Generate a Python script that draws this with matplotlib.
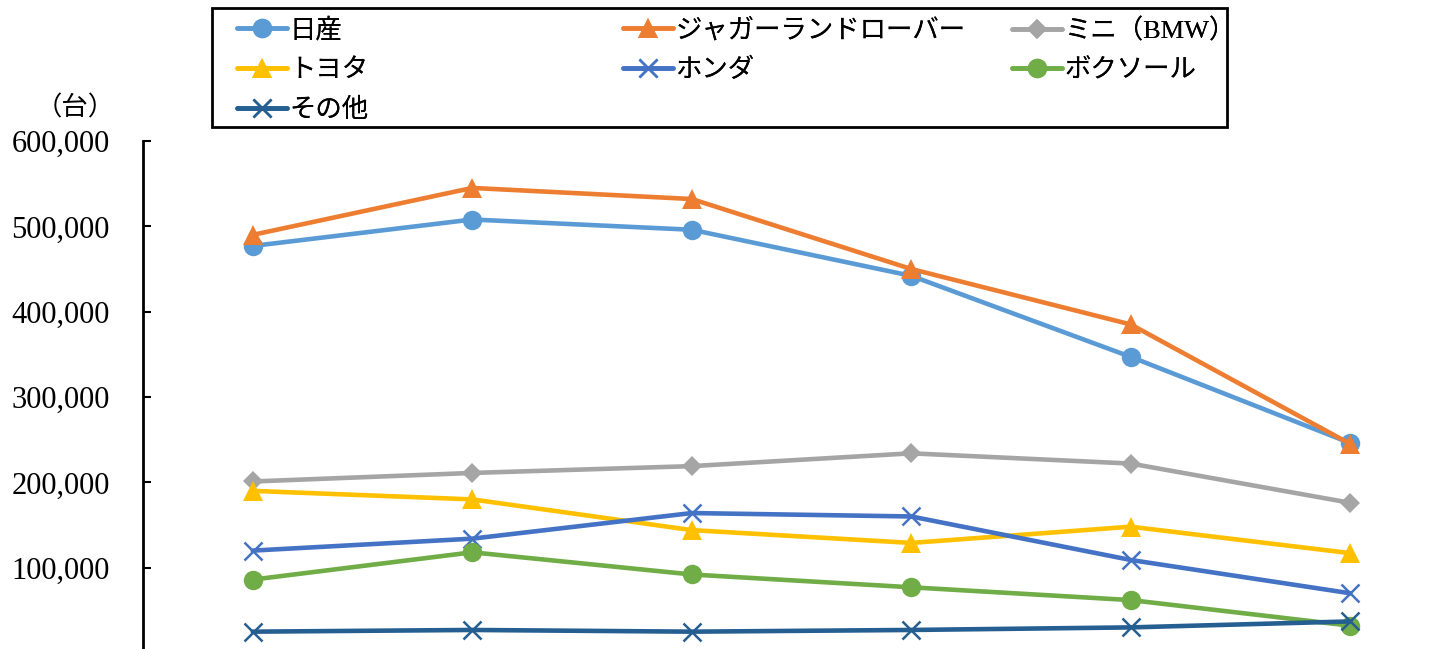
import matplotlib
matplotlib.use('Agg')
import matplotlib.pyplot as plt
from matplotlib.patches import Rectangle
from matplotlib.ticker import FuncFormatter

plt.rcParams['font.family'] = ['Liberation Serif', 'Noto Sans CJK JP']

# categories (x labels are cut off in the reference)
periods = ['1', '2', '3', '4', '5', '6']

nissan = [477000, 508000, 496000, 442000, 347000, 246000]
jaguar = [490000, 545000, 532000, 450000, 385000, 245000]
mini = [201000, 211000, 219000, 234000, 222000, 176000]
toyota = [190000, 180000, 144000, 129000, 148000, 117000]
honda = [120000, 134000, 164000, 160000, 109000, 70000]
vauxhall = [86000, 118000, 92000, 77000, 62000, 32000]
others = [25000, 27000, 25000, 27000, 30000, 37000]

series = [
    ('日産', nissan, '#5B9BD5', 'o'),
    ('ジャガーランドローバー', jaguar, '#ED7D31', '^'),
    ('ミニ（BMW）', mini, '#A5A5A5', 'D'),
    ('トヨタ', toyota, '#FFC000', '^'),
    ('ホンダ', honda, '#4472C4', 'x'),
    ('ボクソール', vauxhall, '#70AD47', 'o'),
    ('その他', others, '#255E91', 'x'),
]

W, H = 1448, 649
fig = plt.figure(figsize=(W / 100, H / 100), dpi=100)
ax = fig.add_axes([143 / W, -4 / H, (1460 - 143) / W, (653 - 141) / H])

x = list(range(len(periods)))
handles = {}
for name, vals, color, mk in series:
    if mk == 'x':
        ms, mew = 13, 1.8
    elif mk == 'D':
        ms, mew = 10, 0
    else:
        ms, mew = 14, 0
    line, = ax.plot(x, vals, color=color, linewidth=3.3, marker=mk,
                    markersize=ms, markeredgewidth=mew, markeredgecolor=color,
                    label=name, solid_capstyle='round')
    handles[name] = line

ax.set_xlim(-0.5, len(periods) - 0.5)
ax.set_ylim(0, 600000)
ax.set_yticks(range(100000, 600001, 100000))
ax.yaxis.set_major_formatter(FuncFormatter(lambda v, p: f'{int(v):,}'))
ax.set_xticks([])
ax.tick_params(axis='y', direction='in', length=6, width=1.5, labelsize=22, pad=24)
for s in ['top', 'right']:
    ax.spines[s].set_visible(False)
for s in ['left', 'bottom']:
    ax.spines[s].set_linewidth(2)

fig.text(75 / W, 1 - 108 / H, '（台）', fontsize=19, ha='center', va='center')

# legend: Excel-style fixed columns inside one frame
columns = [
    (237, ['日産', 'トヨタ', 'その他']),
    (623, ['ジャガーランドローバー', 'ホンダ']),
    (1012, ['ミニ（BMW）', 'ボクソール']),
]
for xpos, names in columns:
    leg = fig.legend([handles[n] for n in names], names, ncol=1,
                     loc='upper left', bbox_to_anchor=(xpos / W, 1 - 18 / H),
                     fontsize=19, frameon=False,
                     handlelength=1.9, handletextpad=0.1,
                     labelspacing=0.6, borderpad=0, borderaxespad=0)
    fig.add_artist(leg)

fig.patches.append(Rectangle((212 / W, 1 - 127 / H), (1227 - 212) / W, (127 - 8) / H,
                             transform=fig.transFigure, fill=False,
                             edgecolor='black', linewidth=2))

plt.savefig('out.png', dpi=100)
